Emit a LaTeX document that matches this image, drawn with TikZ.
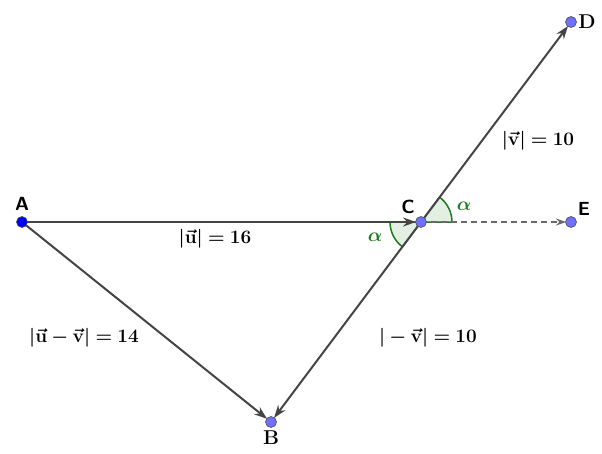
\RequirePackage{fix-cm}
\documentclass[tikz,border=0pt]{standalone}
\usepackage{amsmath,bm}
\usetikzlibrary{arrows.meta}
\definecolor{seg}{HTML}{444444}
\definecolor{ptlight}{HTML}{7070FF}
\definecolor{angcol}{HTML}{1E7A1E}
\begin{document}
\begin{tikzpicture}[x=1pt,y=-1pt,
  vec/.style={draw=seg,line width=2pt,-{Stealth[length=13pt,width=9pt]},shorten >=5pt},
  pt/.style={circle,draw=black!70,line width=0.6pt,fill=ptlight,inner sep=0pt,minimum size=11pt},
  lbl/.style={font=\sffamily\bfseries\fontsize{19}{21}\selectfont},
  lbls/.style={font=\bfseries\fontsize{20}{22}\selectfont},
  frm/.style={font=\fontsize{19}{22}\selectfont},
  ang/.style={draw=angcol,line width=1.5pt,fill=angcol!12}]
\useasboundingbox (0,0) rectangle (602,453);
\coordinate (A) at (22,222);
\coordinate (C) at (421,222);
\coordinate (E) at (571,222);
\coordinate (D) at (571,22);
\coordinate (B) at (271,422);
% angles
\filldraw[ang] (C) -- ++(0:31) arc[start angle=0,end angle=-53.13,radius=31] -- cycle;
\filldraw[ang] (C) -- ++(180:31) arc[start angle=180,end angle=126.87,radius=31] -- cycle;
% vectors
\draw[vec] (A) -- (C);
\draw[vec] (A) -- (B);
\draw[vec] (C) -- (B);
\draw[vec] (C) -- (D);
\draw[draw=seg!80,line width=1.3pt,dashed,dash pattern=on 6pt off 4pt,-{Stealth[length=10pt,width=7pt]},shorten >=5pt] (C) -- (E);
% points
\node[pt,fill=blue] (nA) at (A) {};
\node[pt] (nC) at (C) {};
\node[pt] (nE) at (E) {};
\node[pt] (nD) at (D) {};
\node[pt] (nB) at (B) {};
% labels
\node[lbl] (tA) at (22,204) {A};
\node[lbl] (tC) at (408,207) {C};
\node[lbl] (tE) at (584,209) {E};
\node[lbls] (tD) at (587,22) {D};
\node[lbls] (tB) at (271,438) {B};
\node[text=angcol,frm] (a1) at (464,206) {$\bm{\alpha}$};
\node[text=angcol,frm] (a2) at (375,237) {$\bm{\alpha}$};
\node[frm] (f1) at (215,239) {$\bm{|\vec{\mathbf{u}}| = 16}$};
\node[frm] (f2) at (84,338) {$\bm{|\vec{\mathbf{u}} - \vec{\mathbf{v}}| = 14}$};
\node[frm] (f3) at (428,338) {$\bm{|-\vec{\mathbf{v}}| = 10}$};
\node[frm] (f4) at (538,141) {$\bm{|\vec{\mathbf{v}}| = 10}$};
\end{tikzpicture}
\end{document}
